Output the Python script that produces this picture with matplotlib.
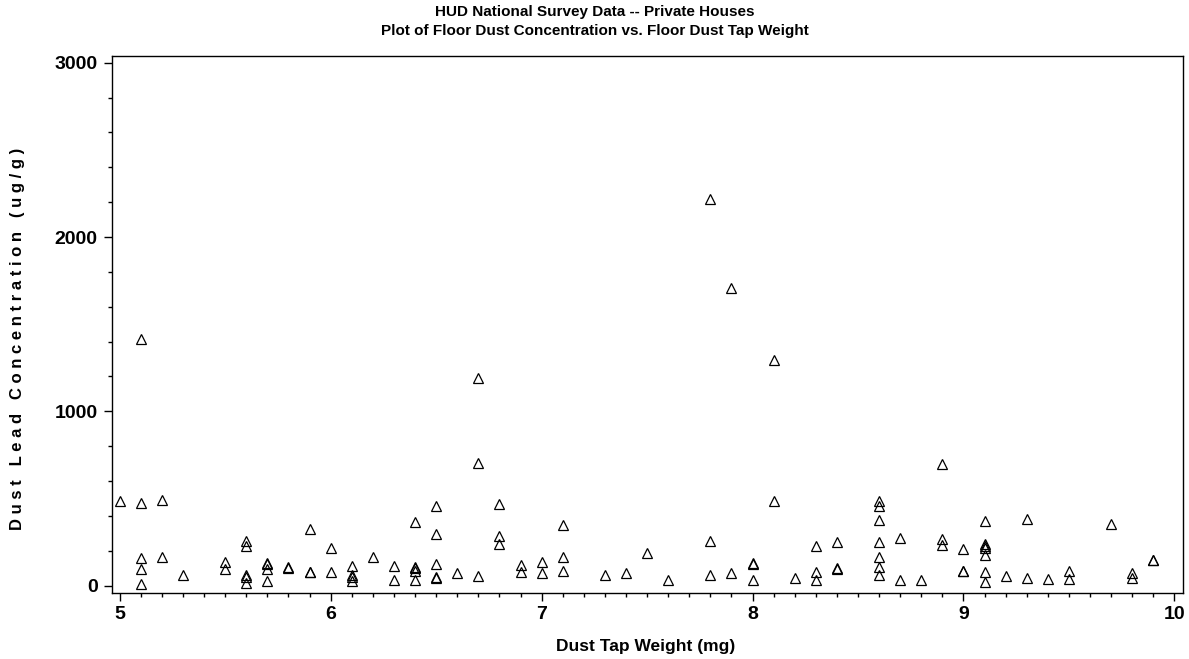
import numpy
import matplotlib
matplotlib.use('Agg')
import matplotlib.pyplot as plt
from matplotlib.ticker import MultipleLocator

# dust tap weight (mg) and dust lead concentration (ug/g), one entry per house
tap_weight = [5.0,
              5.1, 5.1, 5.1, 5.1, 5.1,
              5.2, 5.2,
              5.3,
              5.5, 5.5,
              5.6, 5.6, 5.6, 5.6, 5.6,
              5.7, 5.7, 5.7, 5.7,
              5.8, 5.8,
              5.9, 5.9, 5.9,
              6.0, 6.0,
              6.1, 6.1, 6.1, 6.1,
              6.2,
              6.3, 6.3,
              6.4, 6.4, 6.4, 6.4, 6.4,
              6.5, 6.5, 6.5, 6.5, 6.5,
              6.6,
              6.7, 6.7, 6.7,
              6.8, 6.8, 6.8,
              6.9, 6.9,
              7.0, 7.0,
              7.1, 7.1, 7.1,
              7.3, 7.4, 7.5, 7.6,
              7.8, 7.8, 7.8,
              7.9, 7.9,
              8.0, 8.0, 8.0,
              8.1, 8.1,
              8.2,
              8.3, 8.3, 8.3,
              8.4, 8.4, 8.4,
              8.6, 8.6, 8.6, 8.6, 8.6, 8.6, 8.6,
              8.7, 8.7,
              8.8,
              8.9, 8.9, 8.9,
              9.0, 9.0, 9.0,
              9.1, 9.1, 9.1, 9.1, 9.1, 9.1, 9.1,
              9.2,
              9.3, 9.3,
              9.4,
              9.5, 9.5,
              9.7,
              9.8, 9.8,
              9.9, 9.9]

lead_conc = [485,
             1415, 477, 160, 94, 10,
             492, 165,
             62,
             138, 94,
             258, 227, 62, 52, 14,
             132, 122, 94, 27,
             106, 104,
             325, 77, 77,
             217, 77,
             115, 60, 50, 27,
             162,
             112, 35,
             365, 110, 100, 83, 30,
             456, 298, 127, 50, 44,
             71,
             1194, 702, 58,
             467, 287, 238,
             117, 77,
             134, 71,
             350, 162, 87,
             60, 75, 187, 35,
             2220, 258, 63,
             1705, 73,
             128, 125, 35,
             1297, 485,
             45,
             227, 81, 34,
             252, 104, 94,
             485, 460, 379, 252, 165, 108, 62,
             275, 33,
             33,
             696, 269, 235,
             213, 87, 85,
             373, 238, 229, 217, 177, 81, 23,
             57,
             382, 44,
             37,
             87, 39,
             356,
             71, 43,
             150, 146]

x_ticks = [5, 6, 7, 8, 9, 10]
y_ticks = [0, 1000, 2000, 3000]

title_lines = ["HUD National Survey Data -- Private Houses",
               "Plot of Floor Dust Concentration vs. Floor Dust Tap Weight"]
x_label = "Dust Tap Weight (mg)"
y_label = "Dust Lead Concentration (ug/g)"

plt.rcParams['font.family'] = ['Liberation Sans', 'DejaVu Sans']

fig = plt.figure(figsize=(11.89, 6.59), dpi=100)
ax = fig.add_axes([0.0945, 0.1006, 0.9005, 0.8144])

ax.plot(tap_weight, lead_conc, linestyle='none', marker='^', markersize=7.5,
        markerfacecolor='none', markeredgecolor='black', markeredgewidth=0.9)

ax.set_xlim(4.965, 10.041)
ax.set_ylim(-40, 3038)
ax.set_xticks(x_ticks)
ax.set_yticks(y_ticks)
ax.xaxis.set_minor_locator(MultipleLocator(0.1))
ax.yaxis.set_minor_locator(MultipleLocator(200))
ax.tick_params(which='major', direction='out', length=6, width=1, labelsize=14)
ax.tick_params(which='minor', direction='out', length=3, width=1)
ax.tick_params(axis='x', which='major', pad=3.5)
ax.tick_params(axis='y', which='major', pad=4.5)
for lbl in ax.get_xticklabels() + ax.get_yticklabels():
    lbl.set_fontweight('bold')
for side in ax.spines:
    ax.spines[side].set_linewidth(1.0)

fig.text(0.5, 1 - 12.0 / 659, title_lines[0], ha='center', va='center',
         fontsize=11, fontweight='bold')
fig.text(0.5, 1 - 31.0 / 659, title_lines[1], ha='center', va='center',
         fontsize=11, fontweight='bold')
fig.text(646.0 / 1189, 1 - 647.0 / 659, x_label, ha='center', va='center',
         fontsize=12.5, fontweight='bold')
# spaced out lettering like the original vertical axis label
fig.text(18.0 / 1189, 1 - 339.0 / 659, " ".join(y_label), ha='center', va='center',
         rotation=90, fontsize=12, fontweight='bold')

plt.savefig("out.png", dpi=100)
plt.close()
